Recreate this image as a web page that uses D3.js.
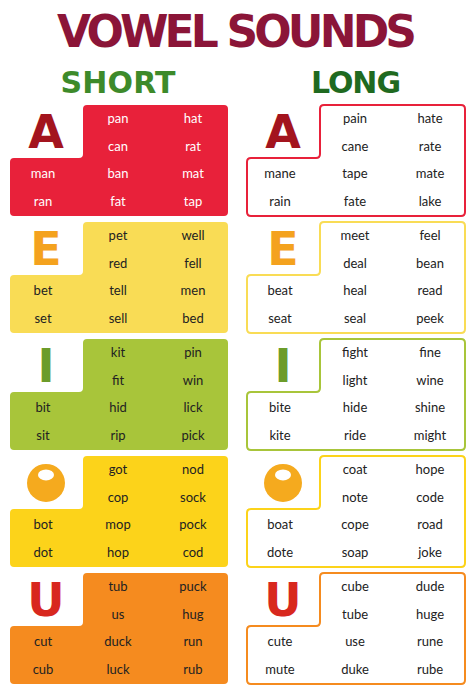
<!DOCTYPE html>
<html><head><meta charset="utf-8">
<script src="https://cdn.jsdelivr.net/npm/d3@7"></script>
<style>body{margin:0;background:#fff}</style>
</head><body><svg id="chart"></svg>
<script>
const vowels = ["A", "E", "I", "O", "U"];
const fills = ["#e8213a", "#f9dc55", "#a8c53a", "#fcd31a", "#f58b1f"];
const letterColors = ["#a3141e", "#f4a21e", "#6c9c2a", "#f5aa1e", "#d8281e"];
const shortText = ["#fff", "#222", "#222", "#222", "#222"];
// each: [row0 (2 words), row1 (2), row2 (3), row3 (3)]
const shortWords = [
  [["pan","hat"],["can","rat"],["man","ban","mat"],["ran","fat","tap"]],
  [["pet","well"],["red","fell"],["bet","tell","men"],["set","sell","bed"]],
  [["kit","pin"],["fit","win"],["bit","hid","lick"],["sit","rip","pick"]],
  [["got","nod"],["cop","sock"],["bot","mop","pock"],["dot","hop","cod"]],
  [["tub","puck"],["us","hug"],["cut","duck","run"],["cub","luck","rub"]]
];
const longWords = [
  [["pain","hate"],["cane","rate"],["mane","tape","mate"],["rain","fate","lake"]],
  [["meet","feel"],["deal","bean"],["beat","heal","read"],["seat","seal","peek"]],
  [["fight","fine"],["light","wine"],["bite","hide","shine"],["kite","ride","might"]],
  [["coat","hope"],["note","code"],["boat","cope","road"],["dote","soap","joke"]],
  [["cube","dude"],["tube","huge"],["cute","use","rune"],["mute","duke","rube"]]
];

const W = 474, H = 700;
const svg = d3.select("#chart").attr("width", W).attr("height", H);

svg.append("text").attr("x", 237).attr("y", 47).attr("text-anchor", "middle")
  .attr("font-family", "DejaVu Sans").attr("font-weight", "bold").attr("font-size", 44)
  .attr("fill", "#8b1538").attr("textLength", 360).text("VOWEL SOUNDS");
svg.append("text").attr("x", 118).attr("y", 93).attr("text-anchor", "middle")
  .attr("font-family", "DejaVu Sans").attr("font-weight", "bold").attr("font-size", 30)
  .attr("fill", "#3d8a2a").attr("textLength", 115).text("SHORT");
svg.append("text").attr("x", 356).attr("y", 93).attr("text-anchor", "middle")
  .attr("font-family", "DejaVu Sans").attr("font-weight", "bold").attr("font-size", 30)
  .attr("fill", "#1f6a20").attr("textLength", 90).text("LONG");

const y = d3.scaleBand().domain(vowels).range([105, 684]).paddingInner(0.05);
const rowY = d3.scalePoint().domain([0, 1, 2, 3]).range([13, 96]);
const panels = [
  {x0: 10, notch: 83, x1: 228, words: shortWords, solid: true},
  {x0: 247, notch: 320, x1: 465, words: longWords, solid: false}
];

function notchPath(x0, xn, x1, top, bot, mid, r) {
  return `M${xn + r},${top} H${x1 - r} Q${x1},${top} ${x1},${top + r}
    V${bot - r} Q${x1},${bot} ${x1 - r},${bot} H${x0 + r} Q${x0},${bot} ${x0},${bot - r}
    V${mid + r} Q${x0},${mid} ${x0 + r},${mid} H${xn - r} Q${xn},${mid} ${xn},${mid - r}
    V${top + r} Q${xn},${top} ${xn + r},${top} Z`;
}

vowels.forEach((v, i) => {
  const top = y(v), bot = top + y.bandwidth();
  panels.forEach(p => {
    const g = svg.append("g");
    g.append("path").attr("d", notchPath(p.x0, p.notch, p.x1, top, bot, top + 53, 4))
      .attr("fill", p.solid ? fills[i] : "#fff")
      .attr("stroke", p.solid ? "none" : fills[i]).attr("stroke-width", 2);
    const colX = d3.scalePoint().domain([0, 1, 2]).range([p.x0 + 33, p.x1 - 35]);
    p.words[i].forEach((row, r) => {
      const cols = row.length === 2 ? [1, 2] : [0, 1, 2];
      row.forEach((w, k) => {
        g.append("text").attr("x", colX(cols[k])).attr("y", top + rowY(r) + 5)
          .attr("text-anchor", "middle").attr("font-family", "Lato").attr("font-size", 13)
          .attr("fill", p.solid ? shortText[i] : "#222").text(w);
      });
    });
    const lx = p.x0 + 36, ly = top + 27;
    if (v === "O") {
      g.append("circle").attr("cx", lx).attr("cy", ly).attr("r", 19).attr("fill", letterColors[i]);
      g.append("ellipse").attr("cx", lx).attr("cy", ly - 8).attr("rx", 8).attr("ry", 5.5).attr("fill", "#fff");
    } else {
      g.append("text").attr("x", lx).attr("y", ly + 16).attr("text-anchor", "middle")
        .attr("font-family", "DejaVu Sans").attr("font-weight", "bold").attr("font-size", 46)
        .attr("fill", letterColors[i]).text(v);
    }
  });
});
</script></body></html>
